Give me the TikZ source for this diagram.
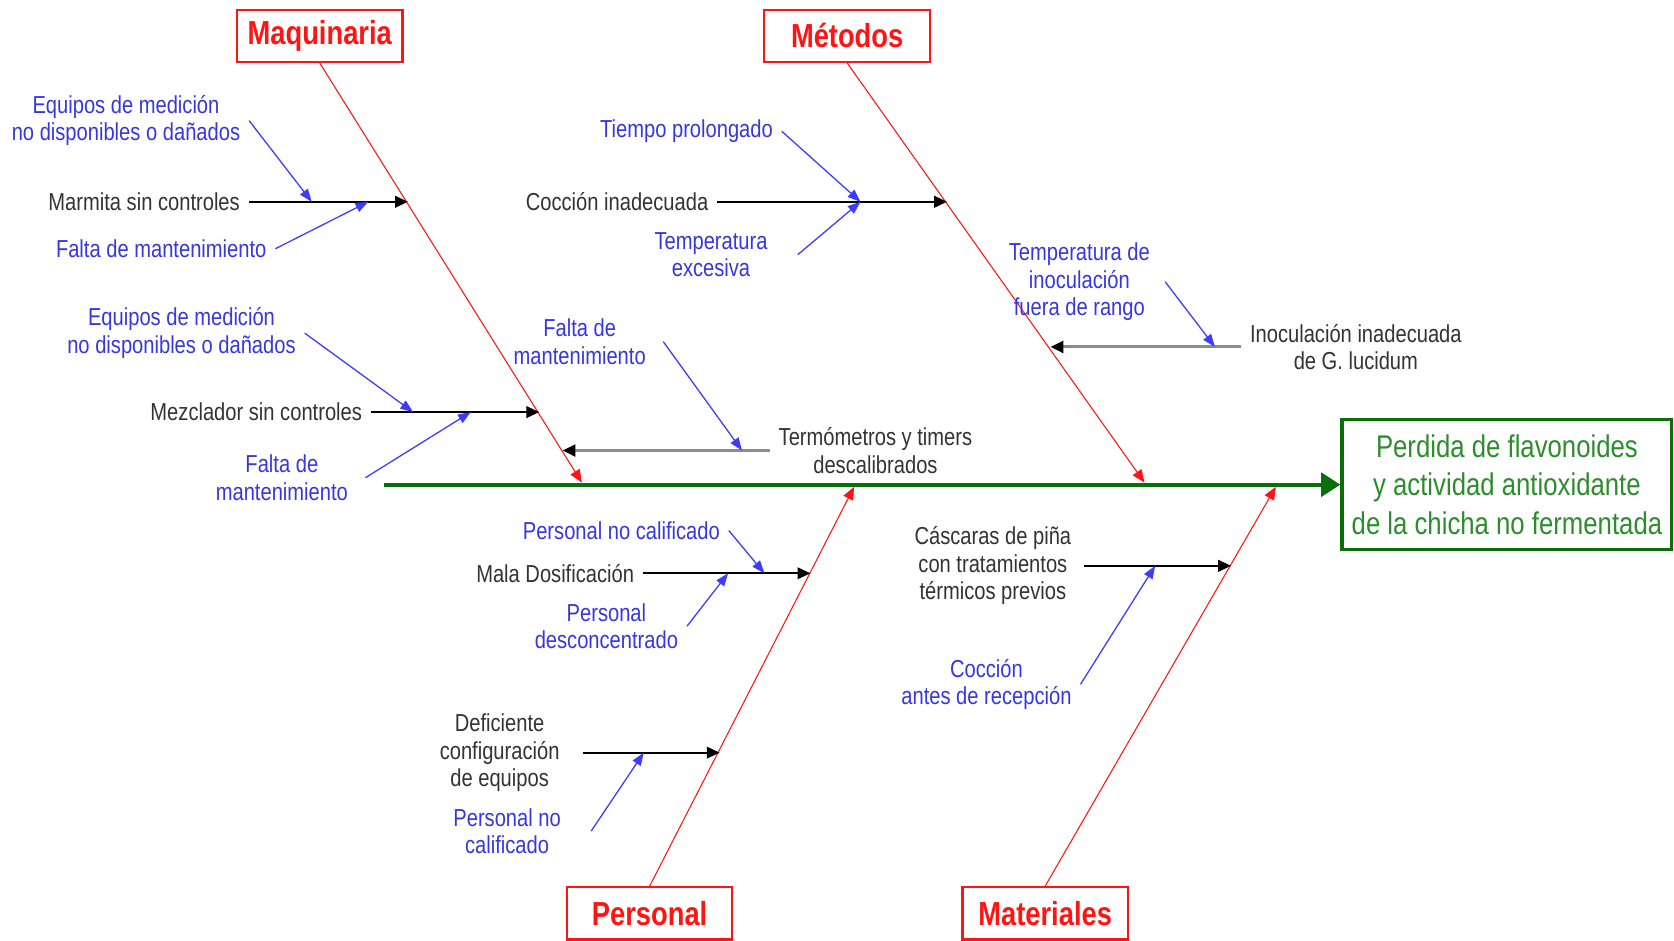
\documentclass[tikz,border=0pt]{standalone}
\usepackage{fontspec}
\setmainfont{Liberation Sans}[FakeStretch=0.82]
\usetikzlibrary{arrows.meta,positioning}
\definecolor{catred}{RGB}{255,20,20}
\definecolor{subblue}{RGB}{55,55,225}
\definecolor{linkblue}{RGB}{60,60,255}
\definecolor{spinegreen}{RGB}{10,110,10}
\definecolor{effgreen}{RGB}{45,140,45}
\tikzset{>=Triangle,
cat/.style={draw=catred, line width=1pt, text=catred, font=\bfseries\fontsize{15.6}{18}\selectfont, minimum width=77.5pt, minimum height=24.5pt, inner sep=0pt},
effect/.style={draw=spinegreen, line width=1.5pt, text=effgreen, font=\fontsize{14.7}{18}\selectfont, align=center, minimum width=154.5pt, minimum height=61pt, inner sep=0pt},
spine/.style={draw=spinegreen, line width=2pt, -{Triangle[length=9pt,width=11pt]}},
bone/.style={draw=catred, line width=0.5pt, -{Triangle[length=6pt,width=5pt]}},
sub/.style={font=\fontsize{11.5}{12.8}\selectfont, text=black!80, align=center, inner sep=4pt},
subsub/.style={sub, text=subblue},
subline/.style={line width=0.8pt, -{Triangle[length=6pt,width=5.5pt]}},
grayline/.style={draw=black!45, line width=1.4pt, -{Triangle[length=6pt,width=5.5pt,color=black]}},
link/.style={draw=linkblue, line width=0.6pt, -{Triangle[length=6pt,width=4.5pt]}}}

\begin{document}
\begin{tikzpicture}[x=0.5pt,y=-0.5pt]
\useasboundingbox (0,0) rectangle (1568,881);
% Effect and spine
\node[effect] (eff) at (1411.5,454) {Perdida de flavonoides\\y actividad antioxidante\\de la chicha no fermentada};
\coordinate (tail) at (360,454);
\draw[spine] (tail) -- (eff.west);
% Categories
\node[cat] (maq) at (299.5,33.5) {Maquinaria};
\node[cat] (met) at (793.5,33.5) {Métodos};
\node[cat] (per) at (608.5,855.5) {Personal};
\node[cat] (mat) at (979,855.5) {Materiales};
\coordinate (maqtip) at (545,452);
\coordinate (mettip) at (1072,452);
\coordinate (pertip) at (800,456);
\coordinate (mattip) at (1195,456);
\draw[bone] (maq.south) -- (maqtip);
\draw[bone] (met.south) -- (mettip);
\draw[bone] (per.north) -- (pertip);
\draw[bone] (mat.north) -- (mattip);
% Maquinaria
\node[sub] (marm) at (135,189) {Marmita sin controles};
\coordinate (marmtip) at (382,189);
\draw[subline] (marm.east) -- (marmtip);
\node[subsub] (eqa) at (118,113) {Equipos de medición\\no disponibles o dañados};
\node[subsub] (fma) at (151,233) {Falta de mantenimiento};
\coordinate (eqaend) at (292,189);
\coordinate (fmaend) at (345,189);
\draw[link] (eqa.east) -- (eqaend);
\draw[link] (fma.east) -- (fmaend);
\node[sub] (mezc) at (240,386) {Mezclador sin controles};
\coordinate (mezctip) at (505,386);
\draw[subline] (mezc.east) -- (mezctip);
\node[subsub] (eqb) at (170,312) {Equipos de medición\\no disponibles o dañados};
\node[subsub] (fmb) at (264,447.5) {Falta de\\mantenimiento};
\coordinate (eqbend) at (387,386);
\coordinate (fmbend) at (441,386);
\draw[link] (eqb.east) -- (eqbend);
\draw[link] ([xshift=4pt]fmb.east) -- (fmbend);
\node[sub] (termo) at (820,422) {Termómetros y timers\\descalibrados};
\coordinate (termotip) at (527,422);
\draw[grayline] (termo.west) -- (termotip);
\node[subsub] (fmc) at (543,320) {Falta de\\mantenimiento};
\coordinate (fmcend) at (695,422);
\draw[link] ([xshift=4pt]fmc.east) -- (fmcend);
% Metodos
\node[sub] (cocc) at (578,189) {Cocción inadecuada};
\coordinate (cocctip) at (887,189);
\draw[subline] (cocc.east) -- (cocctip);
\node[subsub] (tiem) at (643,123) {Tiempo prolongado};
\node[subsub] (texc) at (666,238.5) {Temperatura\\excesiva};
\coordinate (coccend) at (806,189);
\draw[link] (tiem.east) -- (coccend);
\draw[link] ([xshift=10pt]texc.east) -- (coccend);
\node[sub] (inoc) at (1270,325) {Inoculación inadecuada\\de G. lucidum};
\coordinate (inoctip) at (984,325);
\draw[grayline] (inoc.west) -- (inoctip);
\node[subsub] (tino) at (1011,264) {Temperatura de\\inoculación\\fuera de rango};
\coordinate (tinoend) at (1138,325);
\draw[link] ([xshift=3pt]tino.east) -- (tinoend);
% Personal
\node[sub] (mala) at (520,537) {Mala Dosificación};
\coordinate (malatip) at (759,537);
\draw[subline] (mala.east) -- (malatip);
\node[subsub] (pnca) at (582,497) {Personal no calificado};
\node[subsub] (pdes) at (568,586.5) {Personal\\desconcentrado};
\coordinate (pncaend) at (716,537);
\coordinate (pdesend) at (682,537);
\draw[link] (pnca.east) -- (pncaend);
\draw[link] (pdes.east) -- (pdesend);
\node[sub] (defi) at (468,705) {Deficiente\\configuración\\de equipos};
\coordinate (defitip) at (674,705);
\draw[subline] ([xshift=7pt]defi.east) -- (defitip);
\node[subsub] (pncb) at (475,778.5) {Personal no\\calificado};
\coordinate (pncbend) at (603,705);
\draw[link] ([xshift=10pt]pncb.east) -- (pncbend);
% Materiales
\node[sub] (casc) at (930,530) {Cáscaras de piña\\con tratamientos\\térmicos previos};
\coordinate (casctip) at (1153,530);
\draw[subline] ([xshift=2pt]casc.east) -- (casctip);
\node[subsub] (cant) at (924,641) {Cocción\\antes de recepción};
\coordinate (cantend) at (1082,530);
\draw[link] (cant.east) -- (cantend);
\end{tikzpicture}
\end{document}
